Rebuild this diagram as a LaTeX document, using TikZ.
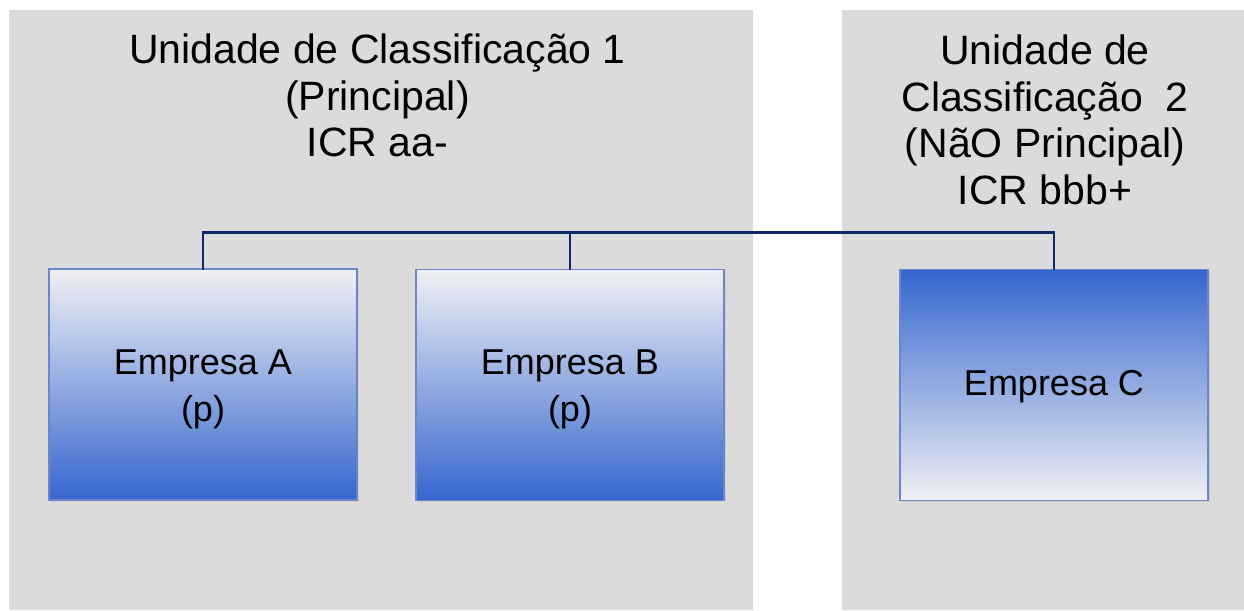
\documentclass[tikz,border=0pt]{standalone}
\usepackage{fontspec}
\setmainfont{Liberation Sans}
\usetikzlibrary{shadows}
\definecolor{panelgray}{HTML}{DBDBDB}
\definecolor{boxlight}{HTML}{F0F0F4}
\definecolor{boxblue}{HTML}{3566CF}
\definecolor{boxedge}{HTML}{6D86CA}
\definecolor{busline}{HTML}{0B2A66}
\begin{document}
\begin{tikzpicture}[x=1pt,y=-1pt,
  panel/.style={fill=panelgray, inner sep=0pt, minimum height=600pt},
  heading/.style={anchor=base, align=center, inner sep=0pt,
    font=\fontsize{41}{46.5}\selectfont},
  company/.style={draw=boxedge, line width=1.4pt, inner sep=0pt,
    minimum width=308pt, minimum height=231pt,
    drop shadow={shadow xshift=1.5pt, shadow yshift=-1.5pt, opacity=0.15}},
  fadedown/.style={company, top color=boxlight, bottom color=boxblue},
  fadeup/.style={company, top color=boxblue, bottom color=boxlight},
  label text/.style={anchor=base, align=center, inner sep=0pt,
    font=\fontsize{36}{47}\selectfont},
  bus/.style={draw=busline, line width=2.4pt, line cap=rect}]
\useasboundingbox (0,0) rectangle (1244,610);
\fill[white] (0,0) rectangle (1244,610);

% classification units (grey panels)
\node[panel, minimum width=744pt] (unit1) at (381,310) {};
\node[panel, minimum width=402pt] (unit2) at (1043,310) {};

% panel headings (anchored at the baseline of their last line)
\node[heading] (title1) at (377.5,156.5)
  {Unidade de Classificação 1\\(Principal)\\ICR aa-};
\node[heading] (title2) at (1045,204)
  {Unidade de\\Classificação~~2\\(NãO Principal)\\ICR bbb+};

% companies
\node[fadedown] (ea) at (203,384.5) {};
\node[fadedown] (eb) at (570,385) {};
\node[fadeup]   (ec) at (1054,385) {};
\node[label text] (ta) at (ea.center |- 0,421) {Empresa A\\(p)};
\node[label text] (tb) at (eb.center |- 0,421) {Empresa B\\(p)};
\node[label text] (tc) at (ec.center |- 0,395.5) {Empresa C};

% connecting bus
\coordinate (busy) at (0,232.5);
\draw[bus] (ea.north) -- (ea.north |- busy) -- (ec.north |- busy) -- (ec.north);
\draw[bus] (eb.north) -- (eb.north |- busy);
\end{tikzpicture}
\end{document}
